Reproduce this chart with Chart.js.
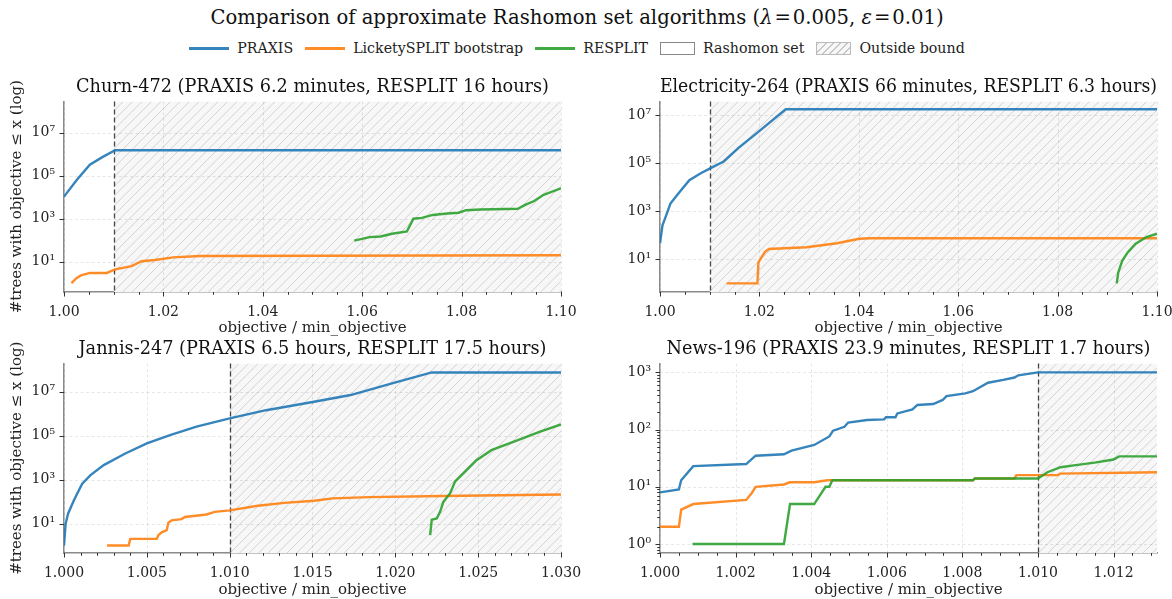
<!DOCTYPE html>
<html>
<head>
<meta charset="utf-8">
<script src="https://cdn.jsdelivr.net/npm/chart.js@4.4.1/dist/chart.umd.min.js"></script>
<style>
  html, body { margin:0; padding:0; background:#fff; }
  body { width:1172px; height:599px; position:relative; overflow:hidden; font-family:"DejaVu Serif", serif; color:#111; }
  #title { position:absolute; left:0; width:1154px; top:6px; text-align:center; font-size:19.6px; line-height:24px; }
  #legend { position:absolute; left:0; width:1154px; top:40px; display:flex; justify-content:center; align-items:center; font-size:14.2px; color:#222; }
  .li { display:flex; align-items:center; margin:0 6px; }
  .ln { width:40px; height:0; border-top:3px solid; margin-right:8px; }
  .bx { width:35px; height:13px; border:1px solid #888; margin-right:8px; box-sizing:border-box; }
  .hatch { background: #f7f7f7 repeating-linear-gradient(-45deg, transparent 0 4px, #c8c8c8 4px 5px); border-color:#bbb; }
  canvas { position:absolute; }
</style>
</head>
<body>
<div id="title">Comparison of approximate Rashomon set algorithms (<i>λ</i>&#8202;=&#8202;0.005, <i>ε</i>&#8202;=&#8202;0.01)</div>
<div id="legend">
  <div class="li"><div class="ln" style="border-color:rgba(31,119,180,0.9)"></div>PRAXIS</div>
  <div class="li"><div class="ln" style="border-color:rgba(255,127,14,0.9)"></div>LicketySPLIT bootstrap</div>
  <div class="li"><div class="ln" style="border-color:rgba(44,160,44,0.9)"></div>RESPLIT</div>
  <div class="li"><div class="bx"></div>Rashomon set</div>
  <div class="li"><div class="bx hatch"></div>Outside bound</div>
</div>
<canvas id="c1" width="592" height="267" style="left:0px;top:70px"></canvas>
<canvas id="c2" width="576" height="267" style="left:596px;top:70px"></canvas>
<canvas id="c3" width="592" height="267" style="left:0px;top:332px"></canvas>
<canvas id="c4" width="576" height="267" style="left:596px;top:332px"></canvas>
<script>
// ---------------- DATA ----------------
const seriesNames = ['PRAXIS', 'LicketySPLIT bootstrap', 'RESPLIT'];
const panelTitles = [
  'Churn-472 (PRAXIS 6.2 minutes, RESPLIT 16 hours)',
  'Electricity-264 (PRAXIS 66 minutes, RESPLIT 6.3 hours)',
  'Jannis-247 (PRAXIS 6.5 hours, RESPLIT 17.5 hours)',
  'News-196 (PRAXIS 23.9 minutes, RESPLIT 1.7 hours)'
];
const rashomonBound = 1.01;

// Churn-472
const churnPraxisX = [1.000, 1.0026, 1.0052, 1.0078, 1.0103, 1.100];
const churnPraxisY = [10700, 65000, 330000, 760000, 1550000, 1550000];
const churnLickX = [1.0015, 1.0025, 1.0034, 1.0052, 1.0086, 1.0103, 1.0136, 1.0156, 1.0183, 1.022, 1.0273, 1.100];
const churnLickY = [1, 1.7, 2.3, 3.0, 3.0, 4.4, 6.2, 10.5, 12, 16, 18.5, 20];
const churnResplitX = [1.0584, 1.0615, 1.0637, 1.066, 1.069, 1.0703, 1.072, 1.0742, 1.0771, 1.0794, 1.0809, 1.0838, 1.0913, 1.0928, 1.0946, 1.0965, 1.100];
const churnResplitY = [96, 140, 150, 200, 260, 1000, 1100, 1500, 1750, 1900, 2500, 2700, 2900, 4400, 6700, 13000, 26000];

// Electricity-264
const elecPraxisX = [1.000, 1.0005, 1.001, 1.0021, 1.0037, 1.0059, 1.0082, 1.0101, 1.0128, 1.0158, 1.0196, 1.0253, 1.100];
const elecPraxisY = [47, 260, 500, 2100, 5600, 20000, 39000, 62000, 120000, 440000, 1900000, 18000000, 18000000];
const elecLickX = [1.0134, 1.0196, 1.0198, 1.0204, 1.0211, 1.0219, 1.0295, 1.0356, 1.0401, 1.0424, 1.100];
const elecLickY = [1, 1, 7.5, 12, 20, 27, 32, 47, 72, 76, 76];
const elecResplitX = [1.0919, 1.0922, 1.093, 1.0941, 1.0957, 1.0979, 1.100];
const elecResplitY = [1, 2.8, 8.7, 19.5, 45, 85, 117];

// Jannis-247
const jannisPraxisX = [1.000, 1.0001, 1.00025, 1.0006, 1.0008, 1.0011, 1.0016, 1.0024, 1.0037, 1.005, 1.0064, 1.008, 1.010, 1.0122, 1.0151, 1.0173, 1.0198, 1.0222, 1.030];
const jannisPraxisY = [1, 10, 29, 115, 234, 660, 1600, 4600, 15500, 45000, 107000, 257000, 620000, 1450000, 3500000, 7100000, 24000000, 76000000, 76000000];
const jannisLickX = [1.0026, 1.0039, 1.004, 1.0056, 1.0057, 1.0059, 1.0062, 1.0063, 1.0065, 1.0071, 1.0073, 1.0086, 1.0091, 1.010, 1.0117, 1.0133, 1.0151, 1.0162, 1.0184, 1.0229, 1.030];
const jannisLickY = [1, 1, 2, 2, 3, 4, 5, 11, 14, 16, 20, 26, 34, 40, 65, 88, 110, 140, 160, 180, 210];
const jannisResplitX = [1.0221, 1.0222, 1.0225, 1.0227, 1.0229, 1.0233, 1.0236, 1.0243, 1.0249, 1.0258, 1.0274, 1.0287, 1.030];
const jannisResplitY = [3, 15, 17, 34, 97, 235, 800, 2700, 7700, 22000, 63000, 150000, 325000];

// News-196
const newsPraxisX = [1.000, 1.0005, 1.00056, 1.00088, 1.00228, 1.00253, 1.00328, 1.00348, 1.00408, 1.00448, 1.00458, 1.00488, 1.00498, 1.00548, 1.00593, 1.00598, 1.00623, 1.00628, 1.00668, 1.00681, 1.00723, 1.00748, 1.00758, 1.00808, 1.00828, 1.00868, 1.00908, 1.00938, 1.00948, 1.010, 1.01315];
const newsPraxisY = [8, 9, 13, 23, 25, 35, 37, 43, 54, 76, 96, 112, 133, 147, 151, 165, 165, 192, 226, 270, 280, 330, 386, 430, 470, 660, 740, 815, 890, 1000, 1000];
const newsLickX = [1.000, 1.0005, 1.00056, 1.00088, 1.00228, 1.00243, 1.00253, 1.00328, 1.00343, 1.00408, 1.00443, 1.00828, 1.00833, 1.00938, 1.00943, 1.01053, 1.01058, 1.01315];
const newsLickY = [2, 2, 4, 5, 5.9, 7.8, 10, 11, 12, 12, 13, 13, 14, 14, 16, 16, 17, 18];
const newsResplitX = [1.00086, 1.00328, 1.00344, 1.00408, 1.00438, 1.00448, 1.00456, 1.00828, 1.00833, 1.010, 1.01025, 1.0106, 1.011, 1.0115, 1.012, 1.01215, 1.01315];
const newsResplitY = [1, 1, 5, 5, 10, 10, 13, 13, 14, 14, 18, 22, 24, 26.5, 30, 34, 34];

// Tick labels / axis ranges
const xTicksWide = [1.00, 1.02, 1.04, 1.06, 1.08, 1.10];
const xTicksJannis = [1.000, 1.005, 1.010, 1.015, 1.020, 1.025, 1.030];
const xTicksNews = [1.000, 1.002, 1.004, 1.006, 1.008, 1.010, 1.012];
const yTicksOdd = [1e1, 1e3, 1e5, 1e7];
const yTicksNews = [1e0, 1e1, 1e2, 1e3];

// ---------------- RENDERING ----------------
const SERIF = '"DejaVu Serif", serif';
const COLORS = ['rgba(31,119,180,0.9)', 'rgba(255,127,14,0.9)', 'rgba(44,160,44,0.9)'];
const SUP = {'0':'⁰','1':'¹','2':'²','3':'³','4':'⁴','5':'⁵','6':'⁶','7':'⁷','8':'⁸','9':'⁹','-':'⁻'};
function supLabel(v) {
  const e = Math.round(Math.log10(v));
  return '10' + String(e).split('').map(c => SUP[c]).join('');
}
function pts(xs, ys) { return xs.map((x, i) => ({x: x, y: ys[i]})); }

const decor = {
  id: 'decor',
  beforeDatasetsDraw(chart, args, o) {
    const {ctx, chartArea: a, scales: {x, y}} = chart;
    const hx = x.getPixelForValue(o.bound);
    ctx.save();
    ctx.beginPath(); ctx.rect(hx, a.top, a.right - hx, a.bottom - a.top); ctx.clip();
    ctx.fillStyle = '#f7f7f7';
    ctx.fillRect(hx, a.top, a.right - hx, a.bottom - a.top);
    ctx.strokeStyle = 'rgba(0,0,0,0.17)'; ctx.lineWidth = 0.9;
    const h = a.bottom - a.top;
    ctx.beginPath();
    for (let s = hx - h; s < a.right + 10; s += 9.5) { ctx.moveTo(s, a.bottom); ctx.lineTo(s + h, a.top); }
    ctx.stroke();
    ctx.restore();
    // dashed grid
    ctx.save();
    ctx.strokeStyle = 'rgba(0,0,0,0.12)'; ctx.lineWidth = 0.8; ctx.setLineDash([3, 2.5]);
    ctx.beginPath();
    x.ticks.forEach(t => { const px = Math.round(x.getPixelForValue(t.value)) + 0.5; ctx.moveTo(px, a.top); ctx.lineTo(px, a.bottom); });
    y.ticks.forEach(t => { const py = Math.round(y.getPixelForValue(t.value)) + 0.5; ctx.moveTo(a.left, py); ctx.lineTo(a.right, py); });
    ctx.stroke();
    ctx.restore();
    // tick marks
    ctx.save();
    ctx.strokeStyle = '#333'; ctx.lineWidth = 1;
    ctx.beginPath();
    x.ticks.forEach(t => { const px = Math.round(x.getPixelForValue(t.value)) + 0.5; ctx.moveTo(px, a.bottom); ctx.lineTo(px, a.bottom + 4.5); });
    y.ticks.forEach(t => { const py = Math.round(y.getPixelForValue(t.value)) + 0.5; ctx.moveTo(a.left, py); ctx.lineTo(a.left - 4.5, py); });
    for (let v = x.min; v <= x.max + 1e-9; v += o.xMinor) {
      const px = Math.round(x.getPixelForValue(v)) + 0.5;
      ctx.moveTo(px, a.bottom); ctx.lineTo(px, a.bottom + 2.8);
    }
    if (o.yMinor) {
      for (let d = -1; d <= 3; d++) for (let m = 2; m <= 9; m++) {
        const v = m * Math.pow(10, d);
        if (v < y.min || v > y.max) continue;
        const py = Math.round(y.getPixelForValue(v)) + 0.5;
        ctx.moveTo(a.left, py); ctx.lineTo(a.left - 2.8, py);
      }
    }
    ctx.stroke();
    ctx.restore();
    // Rashomon bound dashed line
    ctx.save();
    ctx.strokeStyle = 'rgba(40,40,40,0.85)'; ctx.lineWidth = 1.3; ctx.setLineDash([5, 3]);
    ctx.beginPath(); ctx.moveTo(Math.round(hx) + 0.5, a.top); ctx.lineTo(Math.round(hx) + 0.5, a.bottom); ctx.stroke();
    ctx.restore();
  }
};

function makeChart(id, p) {
  const datasets = p.series.map((s, i) => ({
    label: seriesNames[i], data: pts(s[0], s[1]),
    borderColor: COLORS[i], backgroundColor: COLORS[i], borderWidth: 2.4,
    pointRadius: 0, tension: 0, fill: false, order: 3 - i
  }));
  new Chart(document.getElementById(id), {
    type: 'line',
    data: { datasets },
    options: {
      responsive: false, animation: false,
      layout: { padding: { left: 0, right: p.padR, top: 0, bottom: 0 } },
      plugins: {
        legend: { display: false }, tooltip: { enabled: false },
        title: { display: true, fullSize: false, text: p.title, color: '#111', font: { family: SERIF, size: 17.7, weight: 'normal', lineHeight: 1.2 }, padding: { top: 7.2, bottom: 3 } },
        decor: { bound: rashomonBound, xMinor: p.xMinor, yMinor: p.yMinor }
      },
      scales: {
        x: {
          type: 'linear', min: p.xMin, max: p.xMax,
          afterBuildTicks: s => { s.ticks = p.xTicks.map(v => ({ value: v })); },
          afterFit: s => { s.height = p.xH; s.paddingLeft = 0; s.paddingRight = 0; },
          ticks: { callback: v => Number(v).toFixed(p.xDec), color: '#222', font: { family: SERIF, size: 14 }, padding: 6.5, maxRotation: 0, autoSkip: false },
          grid: { display: false, drawTicks: true, tickLength: 5 },
          border: { display: true, color: '#8a8a8a', width: 1.5 },
          title: { display: true, text: 'objective / min_objective', color: '#222', font: { family: SERIF, size: 15, lineHeight: 1.2 }, padding: 0 }
        },
        y: {
          type: 'logarithmic', min: p.yMin, max: p.yMax,
          afterBuildTicks: s => { s.ticks = p.yTicks.map(v => ({ value: v })); },
          afterFit: s => { s.width = 64; s.paddingTop = 0; s.paddingBottom = 0; },
          ticks: { callback: v => supLabel(v), color: '#222', font: { family: SERIF, size: 14 }, padding: 4, autoSkip: false },
          grid: { display: false, drawTicks: true, tickLength: 5 },
          border: { display: true, color: '#8a8a8a', width: 1.5 },
          title: { display: p.yTitle, text: '#trees with objective ≤ x (log)', color: '#222', font: { family: SERIF, size: 15, lineHeight: 1.2 }, padding: { top: 8, bottom: 0 } }
        }
      }
    },
    plugins: [decor]
  });
}

makeChart('c1', { title: panelTitles[0], yTitle: true, padR: 31, xH: 45,
  series: [[churnPraxisX, churnPraxisY], [churnLickX, churnLickY], [churnResplitX, churnResplitY]],
  xMin: 1.0, xMax: 1.1, xTicks: xTicksWide, xDec: 2, xMinor: 0.005,
  yMin: Math.pow(10, -0.41), yMax: Math.pow(10, 8.46), yTicks: yTicksOdd, yMinor: false });
makeChart('c2', { title: panelTitles[1], yTitle: false, padR: 15, xH: 45,
  series: [[elecPraxisX, elecPraxisY], [elecLickX, elecLickY], [elecResplitX, elecResplitY]],
  xMin: 1.0, xMax: 1.1, xTicks: xTicksWide, xDec: 2, xMinor: 0.005,
  yMin: Math.pow(10, -0.36), yMax: Math.pow(10, 7.58), yTicks: yTicksOdd, yMinor: false });
makeChart('c3', { title: panelTitles[2], yTitle: true, padR: 31, xH: 46,
  series: [[jannisPraxisX, jannisPraxisY], [jannisLickX, jannisLickY], [jannisResplitX, jannisResplitY]],
  xMin: 1.0, xMax: 1.03, xTicks: xTicksJannis, xDec: 3, xMinor: 0.001,
  yMin: Math.pow(10, -0.34), yMax: Math.pow(10, 8.29), yTicks: yTicksOdd, yMinor: false });
makeChart('c4', { title: panelTitles[3], yTitle: false, padR: 15, xH: 46,
  series: [[newsPraxisX, newsPraxisY], [newsLickX, newsLickY], [newsResplitX, newsResplitY]],
  xMin: 1.0, xMax: 1.01315, xTicks: xTicksNews, xDec: 3, xMinor: 0.0005,
  yMin: Math.pow(10, -0.157), yMax: Math.pow(10, 3.157), yTicks: yTicksNews, yMinor: true });
</script>
</body>
</html>
